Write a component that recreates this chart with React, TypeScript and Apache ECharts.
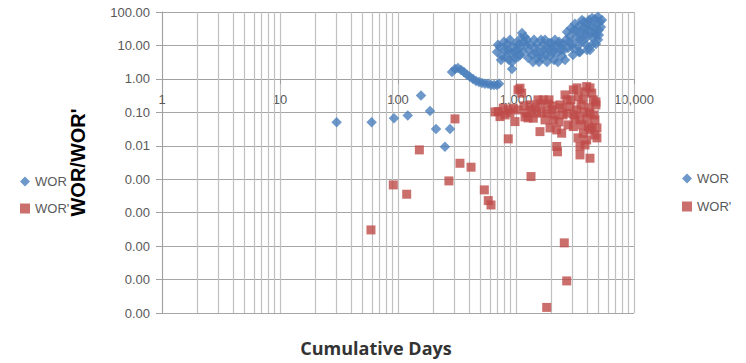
import React, { useEffect, useRef } from 'react';
import * as echarts from 'echarts';

// ---- axis / tick data ----
const xDecades = [1, 10, 100, 1000];
const minorMultipliers = [2, 3, 4, 5, 6, 7, 8, 9];
const seriesNames = ['WOR', "WOR'"];

// ---- WOR (blue diamonds) ----
const worDays = [
  30.2, 59.8, 92.5, 120.9, 156.6, 186.7, 210, 250, 276,
  287, 304, 322, 342, 362, 384, 407, 432, 458, 486, 515, 546, 579, 614, 651, 690, 718,
  925,
  690, 732, 761, 807, 839, 872, 907, 943, 981, 1019, 1060, 1102, 1124, 1081, 1169,
  1215, 1288, 1367, 1449, 1536, 1597, 1693, 1795, 1867, 1982, 2061, 2183, 2314, 2406, 2502,
  2653, 2759, 2869, 2984, 3103, 3225, 3352, 3419, 3556, 3698, 3767, 3918, 4074, 4154, 4319,
  4404, 4579, 4669, 4855, 4951, 5147, 5047, 3995, 3486, 3042, 4761,
  704, 746, 791, 823, 855, 889, 925, 962, 1000, 1040, 1081, 1146, 1191,
  1239, 1264, 1314, 1393, 1421, 1476, 1505, 1566, 1628, 1660, 1726, 1761, 1832, 1905, 1942,
  2018, 2098, 2141, 2225, 2269, 2360, 2455, 2552, 2602,
  2706, 2812, 2924, 3042, 3163, 3289, 3419, 3486, 3625, 3698, 3843, 3918, 4074, 4236, 4236,
  4404, 4490, 4669, 4761, 4951, 5047, 5248, 5350,
];
const worValues = [
  0.0507, 0.0507, 0.0668, 0.08, 0.317, 0.11, 0.032, 0.0094, 0.032,
  1.62, 1.99, 2.13, 1.86, 1.62, 1.32, 1.15, 1.0, 0.87, 0.81, 0.76, 0.71, 0.71, 0.66, 0.66, 0.66, 0.71,
  1.99,
  6.42, 9.06, 4.87, 7.36, 11.1, 3.7, 5.99, 9.06, 4.25, 7.36, 11.1, 16.8, 23.7, 5.22, 12.8,
  10.4, 7.36, 5.22, 8.45, 4.25, 6.42, 10.4, 5.22, 7.89, 11.9, 6.42, 9.7, 12.8, 7.36, 11.1,
  14.7, 8.45, 19.3, 11.1, 29.2, 16.8, 9.7, 38.5, 23.7, 13.7, 50.7, 31.3, 19.3, 58.1, 38.5,
  10.4, 25.4, 62.2, 44.2, 14.7, 50.7, 29.2, 7.36, 6.42, 5.22, 20.7,
  10.4, 3.7, 12.8, 4.55, 7.36, 14.7, 3.22, 6.42, 11.9, 4.55, 8.45, 6.42, 18.0,
  14.7, 4.25, 10.4, 3.22, 14.7, 5.99, 11.1, 3.22, 14.7, 4.25, 7.36, 14.7, 3.22, 11.9, 4.87,
  8.45, 3.7, 14.7, 5.99, 3.22, 10.4, 4.87, 7.36, 3.7,
  25.4, 12.8, 33.5, 8.45, 44.2, 25.4, 6.42, 14.7, 58.1, 33.5, 20.7, 10.4, 44.2, 27.2, 7.36,
  66.7, 16.8, 33.5, 11.1, 71.5, 20.7, 35.9, 58.1,
];

// ---- WOR' (red squares) ----
const worPrimeDays = [
  59, 91.2, 118.5, 151.7, 270, 304, 335, 416, 539, 582, 614, 860, 1340, 1820, 2566, 2690,
  1081, 1117, 708, 780, 860, 948, 732, 981, 1233, 1359, 1497, 1402, 1702, 1597, 1820, 2008,
  2072, 2213, 2439, 2213, 2249, 2706, 2706, 2869, 3062, 3373, 3267, 3486, 3062, 3718, 3972,
  3486, 3972, 4385, 4522, 4236, 4669, 4102, 3486, 4236, 4669, 3843,
  1597, 1867, 2455, 3698, 4761, 3163, 4855, 4236, 1191,
  664, 807, 889, 1040, 1040, 1169, 1264, 1314, 1449, 1536, 1660, 1761, 1905, 1942, 2061,
  2141, 2314, 2360, 2502, 2602, 2759, 2924, 3103, 3289, 3352, 3556, 3625, 3843, 3995, 4154,
  4404, 4579, 4761, 4855, 4236, 3767,
];
const worPrimeValues = [
  3.05e-5, 6.76e-4, 3.56e-4, 7.53e-3, 8.9e-4, 0.0637, 3.0e-3, 2.29e-3, 4.8e-4, 2.3e-4, 1.7e-4, 0.0161, 1.2e-3, 1.47e-7, 1.25e-5, 9.1e-7,
  0.527, 0.374, 0.105, 0.133, 0.118, 0.133, 0.0746, 0.0529, 0.0942, 0.118, 0.0942, 0.0668, 0.236, 0.0265, 0.0942, 0.118,
  0.0594, 0.0298, 0.0238, 0.0095, 0.0066, 0.236, 0.0942, 0.149, 0.469, 0.296, 0.118, 0.0594, 0.0375, 0.0238, 0.015,
  0.0095, 0.589, 0.374, 0.236, 0.0942, 0.0594, 0.0375, 0.00533, 0.00425, 0.0211, 0.0106,
  0.179, 0.179, 0.136, 0.236, 0.167, 0.0682, 0.0342, 0.0298, 0.073,
  0.103, 0.0838, 0.0962, 0.469, 0.118, 0.156, 0.0682, 0.167, 0.136, 0.236, 0.103, 0.0594, 0.236, 0.0342, 0.156,
  0.0838, 0.0518, 0.167, 0.0838, 0.332, 0.0421, 0.236, 0.0838, 0.538, 0.0172, 0.167, 0.0421, 0.408, 0.0682, 0.136,
  0.0342, 0.0838, 0.205, 0.0172, 0.538, 0.103,
];

const minorGridX: number[] = [];
xDecades.forEach((d) => minorMultipliers.forEach((k) => minorGridX.push(d * k)));

export default function App() {
  const ref = useRef<HTMLDivElement>(null);
  useEffect(() => {
    if (!ref.current) return;
    const chart = echarts.init(ref.current, undefined, { renderer: 'svg' });
    const labelFont = { color: '#595959', fontSize: 13, fontFamily: 'Liberation Sans' };
    chart.setOption({
      animation: false,
      grid: { left: 162, right: 112, top: 12, bottom: 50, containLabel: false },
      xAxis: {
        type: 'log',
        logBase: 10,
        min: 1,
        max: 10000,
        offset: -234,
        axisLine: { show: true, lineStyle: { color: '#A0A0A0', width: 1 } },
        axisTick: { show: true, length: 5, lineStyle: { color: '#A0A0A0' } },
        axisLabel: {
          ...labelFont,
          margin: 14,
          showMinLabel: true,
          showMaxLabel: true,
          formatter: (v: number) => Math.round(v).toLocaleString('en-US'),
        },
        splitLine: { show: true, lineStyle: { color: '#C0C0C0', width: 1.2 } },
      },
      yAxis: {
        type: 'log',
        logBase: 10,
        min: 1e-7,
        max: 100,
        splitNumber: 10,
        name: "WOR/WOR'",
        nameLocation: 'middle',
        nameGap: 74,
        nameTextStyle: { color: '#000', fontSize: 20, fontWeight: 'bold', fontFamily: 'Liberation Sans' },
        axisLine: { show: true, lineStyle: { color: '#A0A0A0', width: 1 } },
        axisTick: { show: true, length: 6, lineStyle: { color: '#A0A0A0' } },
        axisLabel: {
          ...labelFont,
          margin: 12,
          showMinLabel: true,
          showMaxLabel: true,
          formatter: (v: number) => v.toFixed(2),
        },
        splitLine: { show: true, lineStyle: { color: '#A6A6A6', width: 1.2 } },
      },
      legend: [
        {
          orient: 'vertical', left: 15, top: 170, itemWidth: 10, itemHeight: 10, itemGap: 14,
          data: seriesNames, textStyle: labelFont, selectedMode: false,
        },
        {
          orient: 'vertical', left: 677, top: 167, itemWidth: 10, itemHeight: 10, itemGap: 15,
          data: seriesNames, textStyle: labelFont, selectedMode: false,
        },
      ],
      graphic: [
        {
          type: 'text', x: 376, y: 348,
          style: {
            text: 'Cumulative Days', textAlign: 'center', textVerticalAlign: 'middle',
            font: 'bold 18px "Open Sans"', fill: '#333333',
          },
        },
      ],
      series: [
        {
          name: 'grid', type: 'scatter', data: [], silent: true,
          markLine: {
            silent: true, symbol: ['none', 'none'], z: 1, animation: false,
            label: { show: false },
            lineStyle: { color: '#C0C0C0', width: 1.2, type: 'solid' },
            data: minorGridX.map((v) => ({ xAxis: v })),
          },
        },
        {
          name: 'WOR', type: 'scatter', symbol: 'diamond', symbolSize: 10.5, z: 3,
          itemStyle: { color: '#4A7EBB' },
          data: worDays.map((d, i) => [d, worValues[i]]),
        },
        {
          name: "WOR'", type: 'scatter', symbol: 'rect', symbolSize: 9, z: 4,
          itemStyle: { color: '#BE4B48' },
          data: worPrimeDays.map((d, i) => [d, worPrimeValues[i]]),
        },
      ],
    });
    return () => chart.dispose();
  }, []);
  return (
    <div
      ref={ref}
      style={{ position: 'fixed', left: 0, top: 0, width: 746, height: 363, background: '#fff' }}
    />
  );
}
